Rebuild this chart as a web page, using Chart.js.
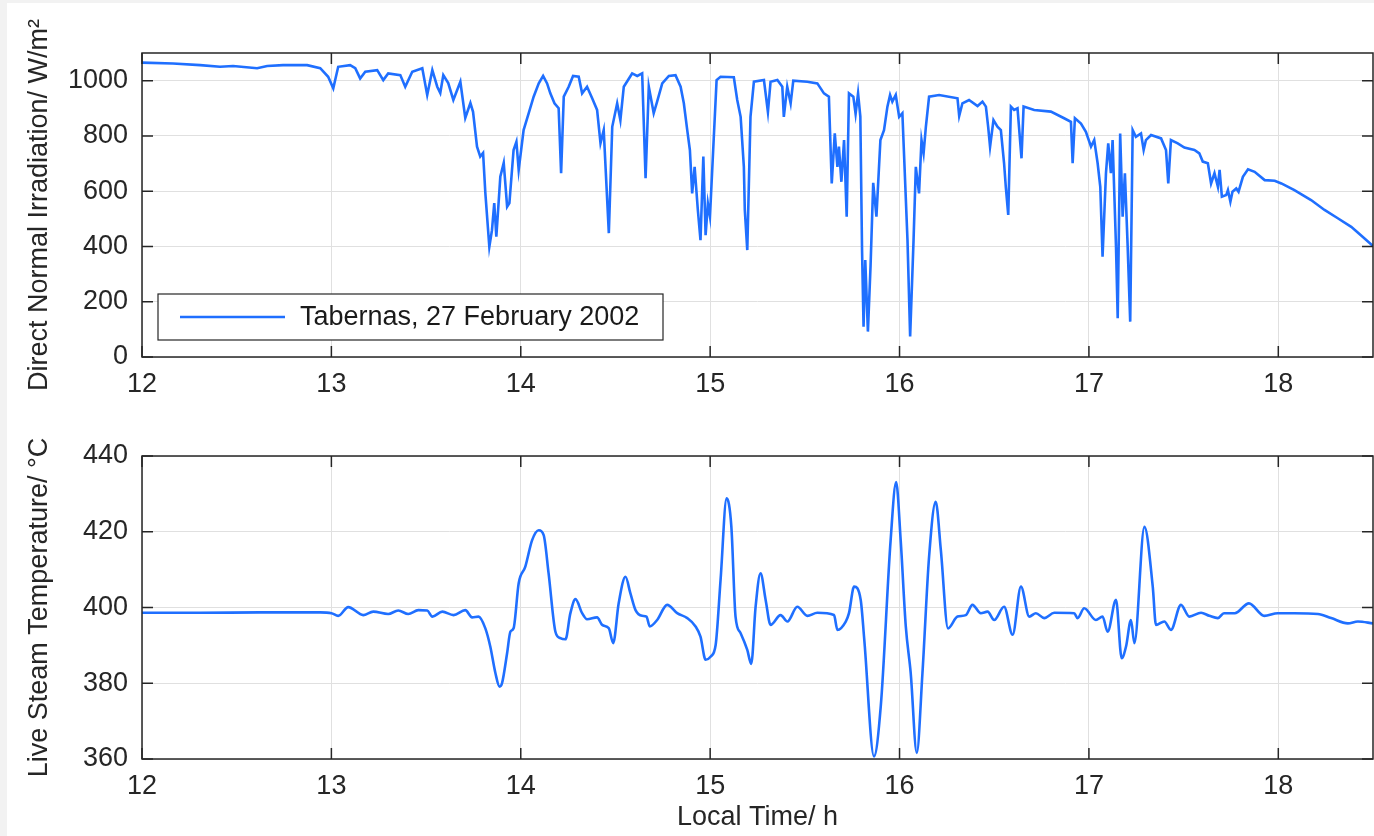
<!DOCTYPE html>
<html>
<head>
<meta charset="utf-8">
<script src="https://cdn.jsdelivr.net/npm/chart.js@4.4.1/dist/chart.umd.min.js"></script>
<style>
  body { margin: 0; background: #f2f2f2; }
  #sheet { position: absolute; left: 7px; top: 3px; width: 1367px; height: 833px; background: #fff; }
  canvas { position: absolute; left: 0; }
</style>
</head>
<body>
<div id="sheet"></div>
<canvas id="chartDni" width="1374" height="410" style="top:0"></canvas>
<canvas id="chartTemp" width="1374" height="426" style="top:410px"></canvas>
<script>
// data (hour of day, value)
const dniTime = [12.000, 12.164, 12.307, 12.412, 12.481, 12.608, 12.661, 12.745, 12.872, 12.941,
  12.983, 13.010, 13.036, 13.099, 13.126, 13.152, 13.179, 13.242, 13.274, 13.300,
  13.364, 13.390, 13.427, 13.480, 13.506, 13.533, 13.559, 13.575, 13.591, 13.617,
  13.644, 13.681, 13.707, 13.734, 13.748, 13.769, 13.786, 13.801, 13.813, 13.834,
  13.848, 13.860, 13.871, 13.892, 13.910, 13.928, 13.940, 13.962, 13.977, 13.989,
  14.015, 14.042, 14.068, 14.095, 14.118, 14.139, 14.156, 14.178, 14.200, 14.213,
  14.227, 14.253, 14.276, 14.306, 14.324, 14.350, 14.377, 14.403, 14.421, 14.438,
  14.465, 14.483, 14.509, 14.526, 14.544, 14.588, 14.615, 14.641, 14.659, 14.676,
  14.702, 14.720, 14.747, 14.782, 14.817, 14.844, 14.861, 14.879, 14.893, 14.905,
  14.918, 14.935, 14.949, 14.964, 14.976, 14.988, 14.999, 15.016, 15.034, 15.055,
  15.125, 15.143, 15.161, 15.178, 15.183, 15.196, 15.213, 15.231, 15.284, 15.305,
  15.319, 15.355, 15.381, 15.389, 15.407, 15.425, 15.439, 15.513, 15.566, 15.601,
  15.627, 15.642, 15.658, 15.672, 15.680, 15.693, 15.707, 15.721, 15.733, 15.756,
  15.768, 15.781, 15.793, 15.802, 15.810, 15.819, 15.833, 15.847, 15.861, 15.878,
  15.899, 15.918, 15.936, 15.950, 15.962, 15.980, 15.998, 16.015, 16.042, 16.056,
  16.074, 16.086, 16.103, 16.116, 16.127, 16.139, 16.156, 16.209, 16.306, 16.315,
  16.332, 16.367, 16.412, 16.438, 16.456, 16.468, 16.478, 16.496, 16.517, 16.535,
  16.552, 16.561, 16.574, 16.588, 16.605, 16.623, 16.644, 16.655, 16.711, 16.799,
  16.869, 16.905, 16.914, 16.926, 16.958, 16.984, 17.011, 17.028, 17.046, 17.060,
  17.072, 17.090, 17.102, 17.116, 17.125, 17.143, 17.152, 17.165, 17.178, 17.190,
  17.204, 17.218, 17.231, 17.248, 17.275, 17.289, 17.301, 17.328, 17.381, 17.407,
  17.419, 17.433, 17.469, 17.504, 17.557, 17.583, 17.601, 17.628, 17.645, 17.663,
  17.681, 17.690, 17.702, 17.725, 17.734, 17.747, 17.758, 17.778, 17.790, 17.813,
  17.840, 17.875, 17.928, 17.981, 18.016, 18.085, 18.173, 18.244, 18.314, 18.385,
  18.445, 18.500];
const dniValues = [1065, 1062, 1056, 1050, 1053, 1045, 1053, 1056, 1056, 1045,
  1014, 972, 1050, 1056, 1045, 1008, 1032, 1038, 1002, 1026,
  1020, 978, 1032, 1045, 948, 1038, 978, 955, 1020, 991,
  930, 996, 865, 919, 887, 761, 725, 738, 593, 399,
  459, 557, 435, 652, 702, 544, 557, 749, 779, 677,
  821, 882, 942, 990, 1017, 990, 954, 918, 900, 665,
  942, 978, 1017, 1014, 954, 978, 936, 894, 774, 821,
  448, 833, 918, 857, 978, 1026, 1017, 1026, 647, 978,
  882, 924, 990, 1017, 1020, 978, 918, 821, 749, 592,
  688, 532, 423, 725, 441, 556, 508, 749, 1002, 1014,
  1012, 930, 869, 688, 532, 387, 869, 996, 1002, 887,
  996, 1002, 978, 869, 978, 918, 1000, 996, 990, 954,
  942, 628, 809, 688, 761, 634, 785, 508, 954, 942,
  880, 954, 870, 387, 110, 351, 92, 330, 630, 508,
  785, 821, 906, 948, 924, 948, 869, 882, 423, 74,
  423, 688, 592, 785, 737, 833, 942, 948, 936, 872,
  918, 930, 908, 924, 906, 833, 761, 857, 833, 821,
  701, 616, 514, 906, 894, 900, 719, 906, 894, 888,
  864, 851, 701, 864, 845, 815, 761, 785, 701, 616,
  363, 665, 773, 665, 785, 399, 140, 809, 508, 665,
  411, 128, 821, 797, 809, 749, 785, 803, 791, 749,
  628, 785, 773, 758, 749, 737, 707, 701, 628, 665,
  616, 677, 580, 586, 604, 562, 598, 610, 598, 652,
  679, 670, 640, 638, 628, 604, 568, 532, 502, 471,
  435, 402];

const tempTime = [12.000, 12.307, 12.624, 12.941, 13.000, 13.036, 13.089, 13.168, 13.221, 13.300,
  13.353, 13.406, 13.459, 13.506, 13.533, 13.586, 13.645, 13.707, 13.743, 13.777,
  13.813, 13.839, 13.866, 13.888, 13.901, 13.928, 13.945, 13.962, 13.989, 14.024,
  14.060, 14.095, 14.121, 14.147, 14.183, 14.209, 14.236, 14.262, 14.289, 14.324,
  14.350, 14.403, 14.430, 14.465, 14.488, 14.517, 14.553, 14.579, 14.606, 14.641,
  14.664, 14.681, 14.720, 14.773, 14.826, 14.879, 14.923, 14.949, 14.976, 15.002,
  15.029, 15.055, 15.087, 15.112, 15.134, 15.161, 15.196, 15.217, 15.240, 15.266,
  15.293, 15.319, 15.372, 15.408, 15.460, 15.513, 15.566, 15.654, 15.672, 15.716,
  15.733, 15.760, 15.795, 15.814, 15.865, 15.901, 15.953, 15.982, 16.006, 16.033,
  16.059, 16.091, 16.121, 16.156, 16.191, 16.218, 16.256, 16.306, 16.350, 16.385,
  16.429, 16.465, 16.500, 16.552, 16.597, 16.641, 16.685, 16.720, 16.764, 16.817,
  16.922, 16.940, 16.975, 17.037, 17.072, 17.099, 17.143, 17.173, 17.196, 17.222,
  17.240, 17.293, 17.337, 17.354, 17.398, 17.433, 17.486, 17.530, 17.592, 17.636,
  17.681, 17.713, 17.770, 17.845, 17.926, 17.997, 18.085, 18.209, 18.279, 18.367,
  18.420, 18.500];
const tempValues = [398.6, 398.6, 398.7, 398.7, 398.5, 397.8, 400.1, 398.0, 398.9, 398.3,
  399.2, 398.3, 399.3, 399.2, 397.6, 398.9, 398.0, 399.3, 397.4, 397.6,
  394.5, 389.7, 382.7, 379.1, 380.0, 388.0, 393.6, 394.5, 406.4, 410.8,
  417.8, 420.4, 419.1, 409.0, 393.6, 391.9, 391.6, 398.5, 402.2, 398.5,
  396.9, 397.4, 395.4, 394.5, 390.6, 401.1, 408.1, 403.7, 399.3, 397.8,
  397.6, 395.0, 396.7, 400.7, 398.5, 397.2, 395.0, 392.3, 386.2, 387.0,
  390.1, 407.3, 428.8, 421.3, 397.6, 393.2, 388.8, 385.1, 400.2, 409.0,
  402.0, 395.4, 398.0, 396.3, 400.2, 397.8, 398.6, 398.0, 394.1, 396.3,
  398.5, 405.5, 402.0, 391.4, 360.7, 374.0, 417.8, 433.1, 417.8, 395.0,
  382.7, 361.6, 382.7, 413.4, 427.9, 415.2, 394.5, 397.6, 398.0, 400.7,
  398.5, 398.9, 396.7, 400.2, 392.8, 405.5, 397.6, 398.5, 397.2, 398.6,
  398.5, 397.2, 399.8, 396.7, 397.6, 393.6, 402.0, 386.6, 389.7, 396.7,
  390.6, 421.3, 405.5, 395.4, 396.3, 394.1, 400.7, 397.6, 398.6, 397.8,
  397.2, 398.5, 398.5, 401.1, 397.8, 398.5, 398.5, 398.3, 397.2, 395.8,
  396.3, 395.8];

const hourTicks = [12, 13, 14, 15, 16, 17, 18];
const dniTicks = [0, 200, 400, 600, 800, 1000];
const tempTicks = [360, 380, 400, 420, 440];

const lineBlue = '#1f6fff';
const axisDark = '#262626';

Chart.defaults.font.family = '"Liberation Sans", Arial, sans-serif';
Chart.defaults.font.size = 27;
Chart.defaults.color = axisDark;

function toPoints(xs, ys) {
    return xs.map((x, i) => ({x: x, y: ys[i]}));
}

// keep only the listed tick values (drops the extra max tick)
function keepTicks(list) {
    return function(scale) {
        scale.ticks = list.map(v => ({value: v}));
    };
}

// MATLAB-like box with inward tick marks on all four sides
const framePlugin = {
    id: 'frame',
    afterDatasetsDraw(chart) {
        const {ctx, chartArea: a, scales: {x, y}} = chart;
        ctx.save();
        ctx.strokeStyle = axisDark;
        ctx.lineWidth = 1.5;
        ctx.beginPath();
        x.ticks.forEach(t => {
            const px = x.getPixelForValue(t.value);
            ctx.moveTo(px, a.bottom); ctx.lineTo(px, a.bottom - 11);
            ctx.moveTo(px, a.top); ctx.lineTo(px, a.top + 11);
        });
        y.ticks.forEach(t => {
            const py = y.getPixelForValue(t.value);
            ctx.moveTo(a.left, py); ctx.lineTo(a.left + 11, py);
            ctx.moveTo(a.right, py); ctx.lineTo(a.right - 11, py);
        });
        ctx.stroke();
        ctx.strokeRect(a.left, a.top, a.right - a.left, a.bottom - a.top);
        ctx.restore();
    }
};

// boxed legend in the lower left corner of the top plot
const boxLegend = {
    id: 'boxLegend',
    afterDraw(chart) {
        const {ctx, chartArea: a} = chart;
        const ds = chart.data.datasets[0];
        const bx = a.left + 16, by = a.bottom - 63, bw = 505, bh = 46;
        ctx.save();
        ctx.fillStyle = '#fff';
        ctx.fillRect(bx, by, bw, bh);
        ctx.strokeStyle = axisDark;
        ctx.lineWidth = 1.2;
        ctx.strokeRect(bx, by, bw, bh);
        ctx.strokeStyle = ds.borderColor;
        ctx.lineWidth = 2.5;
        ctx.beginPath();
        ctx.moveTo(bx + 22, by + bh / 2);
        ctx.lineTo(bx + 127, by + bh / 2);
        ctx.stroke();
        ctx.fillStyle = '#1a1a1a';
        ctx.font = '27px "Liberation Sans", Arial, sans-serif';
        ctx.textBaseline = 'middle';
        ctx.fillText(ds.label, bx + 142, by + bh / 2 + 1);
        ctx.restore();
    }
};

function xAxis(height, title) {
    return {
        type: 'linear',
        min: 12,
        max: 18.5,
        afterBuildTicks: keepTicks(hourTicks),
        afterFit: (s) => { s.height = height; },
        grid: { color: '#e0e0e0', lineWidth: 1, drawTicks: false },
        border: { display: false },
        ticks: { padding: 11, maxRotation: 0, autoSkip: false, callback: v => String(v) },
        title: title
    };
}

function yAxis(min, max, list, label) {
    return {
        min: min,
        max: max,
        afterBuildTicks: keepTicks(list),
        afterFit: (s) => { s.width = 142; },
        grid: { color: '#e0e0e0', lineWidth: 1, drawTicks: false },
        border: { display: false },
        ticks: { padding: 14, callback: v => String(v) },
        title: { display: true, text: label, padding: { top: 23, bottom: 0 } }
    };
}

new Chart(document.getElementById('chartDni').getContext('2d'), {
    type: 'line',
    data: {
        datasets: [{
            label: 'Tabernas, 27 February 2002',
            data: toPoints(dniTime, dniValues),
            borderColor: lineBlue,
            borderWidth: 2.6,
            pointRadius: 0,
            tension: 0,
            fill: false
        }]
    },
    options: {
        responsive: false,
        animation: false,
        layout: { padding: { top: 53, right: 1, bottom: 0, left: 0 } },
        plugins: { legend: { display: false }, tooltip: { enabled: false } },
        scales: {
            x: xAxis(53, { display: false }),
            y: yAxis(0, 1100, dniTicks, 'Direct Normal Irradiation/ W/m²')
        }
    },
    plugins: [framePlugin, boxLegend]
});

new Chart(document.getElementById('chartTemp').getContext('2d'), {
    type: 'line',
    data: {
        datasets: [{
            label: 'Live Steam Temperature',
            data: toPoints(tempTime, tempValues),
            borderColor: lineBlue,
            borderWidth: 2.6,
            pointRadius: 0,
            cubicInterpolationMode: 'monotone',
            fill: false
        }]
    },
    options: {
        responsive: false,
        animation: false,
        layout: { padding: { top: 46, right: 1, bottom: 0, left: 0 } },
        plugins: { legend: { display: false }, tooltip: { enabled: false } },
        scales: {
            x: xAxis(77, { display: true, text: 'Local Time/ h', padding: { top: 0, bottom: 2 } }),
            y: yAxis(360, 440, tempTicks, 'Live Steam Temperature/ °C')
        }
    },
    plugins: [framePlugin]
});
</script>
</body>
</html>
